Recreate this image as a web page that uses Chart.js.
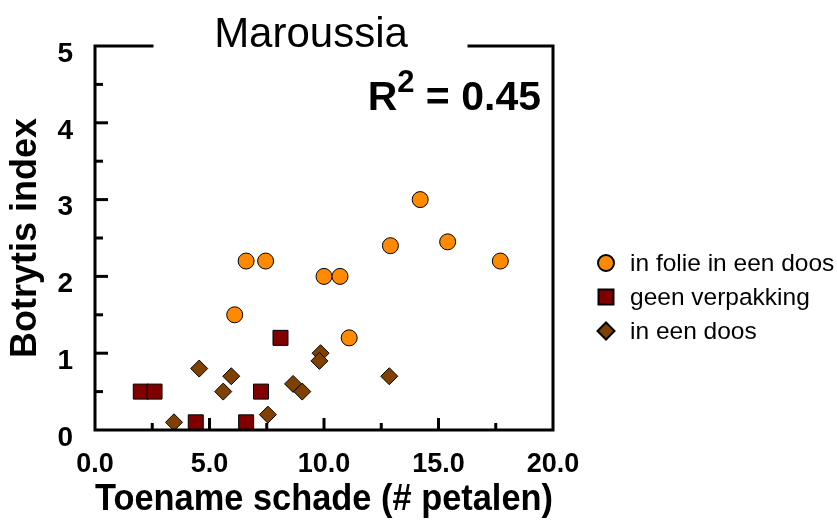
<!DOCTYPE html>
<html>
<head>
<meta charset="utf-8">
<script src="https://cdn.jsdelivr.net/npm/chart.js"></script>
<style>
  html, body { margin: 0; padding: 0; background: #fff; }
  #wrap { width: 837px; height: 524px; }
</style>
</head>
<body>
<div id="wrap"><canvas id="chart" width="837" height="524"></canvas></div>
<script>
// data
const folieX = [6.6, 7.45, 6.1, 10.0, 10.7, 11.1, 12.9, 14.2, 15.4, 17.7];
const folieY = [2.2, 2.2, 1.5, 2.0, 2.0, 1.2, 2.4, 3.0, 2.45, 2.2];
const geenX = [2.0, 2.6, 4.4, 6.6, 7.25, 8.1];
const geenY = [0.5, 0.5, 0.1, 0.1, 0.5, 1.2];
const doosX = [3.45, 4.55, 5.6, 5.95, 7.55, 8.65, 9.05, 9.85, 9.8, 12.85];
const doosY = [0.1, 0.8, 0.5, 0.7, 0.2, 0.6, 0.5, 1.0, 0.9, 0.7];
const seriesNames = ['in folie in een doos', 'geen verpakking', 'in een doos'];
const xTicks = [0, 5, 10, 15, 20];
const yTicks = [0, 1, 2, 3, 4, 5];
const chartTitle = 'Maroussia';
const r2Value = '0.45';

const font = "'Liberation Sans', Arial, sans-serif";

function punten(xs, ys) {
    return xs.map((x, i) => ({ x: x, y: ys[i] }));
}

// kader met opening voor de titel, ticks naar binnen, titel, R2 en legenda
const extras = {
    id: 'extras',
    afterDraw(chart) {
        const ctx = chart.ctx;
        const a = chart.chartArea;
        const sx = chart.scales.x, sy = chart.scales.y;
        ctx.save();
        ctx.strokeStyle = '#000';
        ctx.lineWidth = 3;
        ctx.lineCap = 'square';
        ctx.beginPath();
        ctx.moveTo(152, a.top);
        ctx.lineTo(a.left, a.top);
        ctx.lineTo(a.left, a.bottom);
        ctx.lineTo(a.right, a.bottom);
        ctx.lineTo(a.right, a.top);
        ctx.lineTo(469, a.top);
        ctx.stroke();

        ctx.lineCap = 'butt';
        for (let v = 2.5; v < 20; v += 2.5) {
            const px = sx.getPixelForValue(v);
            const len = v % 5 === 0 ? 12 : 7;
            ctx.beginPath();
            ctx.moveTo(px, a.bottom);
            ctx.lineTo(px, a.bottom - len);
            ctx.stroke();
        }
        for (let v = 0.5; v < 5; v += 0.5) {
            const py = sy.getPixelForValue(v);
            const len = v % 1 === 0 ? 13 : 8;
            ctx.beginPath();
            ctx.moveTo(a.left, py);
            ctx.lineTo(a.left + len, py);
            ctx.stroke();
        }

        ctx.fillStyle = '#000';
        ctx.textBaseline = 'alphabetic';
        ctx.textAlign = 'center';
        ctx.font = '42px ' + font;
        ctx.fillText(chartTitle, 311, 47);

        // R2, rechts uitgelijnd
        ctx.textAlign = 'left';
        const big = 'bold 41px ' + font;
        const small = 'bold 31px ' + font;
        ctx.font = big;
        const wR = ctx.measureText('R').width;
        const wRest = ctx.measureText(' = ' + r2Value).width;
        ctx.font = small;
        const w2 = ctx.measureText('2').width;
        const x0 = 541 - (wR + w2 + wRest);
        ctx.font = big;
        ctx.fillText('R', x0, 110);
        ctx.font = small;
        ctx.fillText('2', x0 + wR, 92);
        ctx.font = big;
        ctx.fillText(' = ' + r2Value, x0 + wR + w2, 110);

        // legenda
        const rows = [263, 297, 331];
        ctx.font = '24.5px ' + font;
        ctx.textBaseline = 'middle';
        chart.data.datasets.forEach((ds, i) => {
            ctx.fillStyle = ds.backgroundColor;
            ctx.strokeStyle = '#000';
            ctx.lineWidth = 2;
            Chart.helpers.drawPoint(ctx, {
                pointStyle: ds.pointStyle,
                radius: ds.pointRadius,
                borderWidth: 2
            }, 606, rows[i]);
            ctx.fillStyle = '#000';
            ctx.fillText(ds.label, 630, rows[i] + 1);
        });
        ctx.restore();
    }
};

const datasets = [
    { label: seriesNames[0], data: punten(folieX, folieY), pointStyle: 'circle', pointRadius: 8, backgroundColor: '#ff8a00' },
    { label: seriesNames[1], data: punten(geenX, geenY), pointStyle: 'rect', pointRadius: 10.6, backgroundColor: '#800000' },
    { label: seriesNames[2], data: punten(doosX, doosY), pointStyle: 'rectRot', pointRadius: 8.5, backgroundColor: '#7f4000' }
];
datasets.forEach(ds => {
    ds.borderColor = '#000';
    ds.borderWidth = 1;
    ds.pointHoverRadius = ds.pointRadius;
    ds.clip = false;
});

new Chart(document.getElementById('chart'), {
    type: 'scatter',
    data: { datasets: datasets },
    options: {
        responsive: false,
        animation: false,
        layout: { padding: { top: 46, right: 284, left: 0, bottom: 0 } },
        plugins: {
            legend: { display: false },
            tooltip: { enabled: false },
            title: { display: false }
        },
        scales: {
            x: {
                type: 'linear',
                min: 0,
                max: 20,
                afterFit: s => { s.height = 94; },
                afterBuildTicks: s => { s.ticks = xTicks.map(v => ({ value: v })); },
                grid: { display: false },
                border: { display: false },
                ticks: {
                    color: '#000',
                    padding: 10,
                    maxRotation: 0,
                    font: { family: font, size: 27, weight: 'bold' },
                    callback: v => v.toFixed(1)
                },
                title: {
                    display: true,
                    text: 'Toename schade (# petalen)',
                    color: '#000',
                    padding: { top: 4, bottom: 2 },
                    font: { family: font, size: 36, weight: 'bold' }
                }
            },
            y: {
                type: 'linear',
                min: 0,
                max: 5,
                afterFit: s => { s.width = 95; },
                afterBuildTicks: s => { s.ticks = yTicks.map(v => ({ value: v })); },
                grid: { display: false },
                border: { display: false },
                ticks: {
                    color: '#000',
                    padding: 14,
                    labelOffset: 8,
                    font: { family: font, size: 28, weight: 'bold' },
                    callback: v => String(v)
                },
                title: {
                    display: true,
                    text: 'Botrytis index',
                    color: '#000',
                    padding: { top: 4, bottom: 4 },
                    font: { family: font, size: 36, weight: 'bold' }
                }
            }
        }
    },
    plugins: [extras]
});
</script>
</body>
</html>
